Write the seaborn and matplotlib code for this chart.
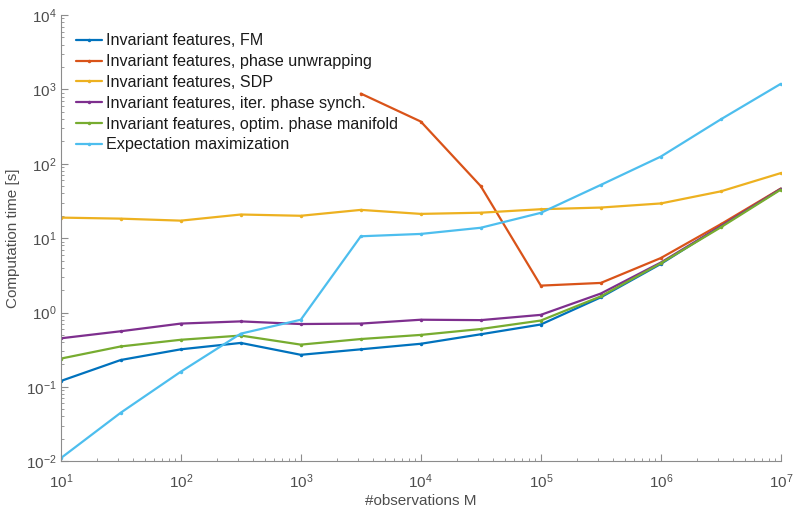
import matplotlib
matplotlib.use("Agg")
import matplotlib.pyplot as plt
import matplotlib.ticker as mticker
import numpy as np
import pandas as pd
import seaborn as sns

# -- data (log-spaced M, half decades)
n_obs = [1e1, 10**1.5, 1e2, 10**2.5, 1e3, 10**3.5, 1e4,
         10**4.5, 1e5, 10**5.5, 1e6, 10**6.5, 1e7]

t_fm = [0.12, 0.23, 0.32, 0.39, 0.27, 0.32, 0.38, 0.51, 0.69, 1.6, 4.5, 14.5, 46]
t_unwrap = [np.nan, np.nan, np.nan, np.nan, np.nan, 880, 370, 50, 2.3, 2.5, 5.4, 15.4, 46.5]
t_sdp = [18.9, 18.3, 17.2, 20.8, 20.0, 24.0, 21.2, 22.0, 24.5, 25.8, 29.3, 42.6, 75]
t_iter = [0.45, 0.56, 0.71, 0.76, 0.70, 0.71, 0.80, 0.79, 0.93, 1.8, 4.7, 14.5, 46]
t_manifold = [0.24, 0.35, 0.43, 0.49, 0.37, 0.44, 0.50, 0.60, 0.78, 1.65, 4.6, 14, 45]
t_em = [0.011, 0.045, 0.16, 0.52, 0.80, 10.6, 11.4, 13.8, 21.9, 52, 125, 396, 1190]

methods = ["Invariant features, FM",
           "Invariant features, phase unwrapping",
           "Invariant features, SDP",
           "Invariant features, iter. phase synch.",
           "Invariant features, optim. phase manifold",
           "Expectation maximization"]
series = [t_fm, t_unwrap, t_sdp, t_iter, t_manifold, t_em]

palette = dict(zip(methods, ["#0072BD", "#D95319", "#EDB120",
                             "#7E2F8E", "#77AC30", "#4DBEEE"]))

df = pd.concat([pd.DataFrame({"M": n_obs, "time": s, "method": m})
                for m, s in zip(methods, series)], ignore_index=True)
df = df.dropna()

sns.set_style("white")
plt.rcParams.update({
    "font.family": ["Liberation Sans", "DejaVu Sans"],
    "mathtext.fontset": "custom",
    "mathtext.rm": "Liberation Sans",
    "mathtext.it": "Liberation Sans",
    "font.size": 10})

fig = plt.figure(figsize=(8, 5.2), dpi=100)
ax = fig.add_axes([0.076, 0.113, 0.90, 0.858])

sns.lineplot(data=df, x="M", y="time", hue="method", hue_order=methods,
             palette=palette, estimator=None, sort=False,
             marker=".", markersize=5, markeredgewidth=0,
             linewidth=1.6, ax=ax)

ax.set_xscale("log")
ax.set_yscale("log")
ax.set_xlim(1e1, 1e7)
ax.set_ylim(1e-2, 1e4)

grey = "#4d4d4d"
axis_grey = "#8c8c8c"
for side in ["top", "right"]:
    ax.spines[side].set_visible(False)
for side in ["left", "bottom"]:
    ax.spines[side].set_color(axis_grey)
    ax.spines[side].set_linewidth(0.8)

ax.xaxis.set_major_locator(mticker.LogLocator(base=10, numticks=20))
ax.yaxis.set_major_locator(mticker.LogLocator(base=10, numticks=20))
ax.xaxis.set_minor_locator(mticker.LogLocator(base=10, subs=np.arange(2, 10), numticks=20))
ax.yaxis.set_minor_locator(mticker.LogLocator(base=10, subs=np.arange(2, 10), numticks=20))
ax.tick_params(which="both", bottom=True, left=True, top=False, right=False)
ax.tick_params(which="major", direction="in", length=5, width=0.8,
               color=axis_grey, labelcolor=grey, labelsize=11)
ax.tick_params(which="minor", direction="in", length=2.5, width=0.6, color=axis_grey)
ax.tick_params(axis="x", pad=8)
ax.tick_params(axis="y", pad=3)

ax.set_xlabel("#observations M", fontsize=11, color=grey, labelpad=2)
ax.set_ylabel("Computation time [s]", fontsize=11, color=grey, labelpad=4)

leg = ax.legend(loc="upper left", frameon=False, fontsize=11.6,
                handlelength=1.6, handletextpad=0.25, labelspacing=0.36,
                borderaxespad=0.3, bbox_to_anchor=(0.006, 0.984))
for t in leg.get_texts():
    t.set_color("#1a1a1a")

fig.savefig("out.png", dpi=100)
